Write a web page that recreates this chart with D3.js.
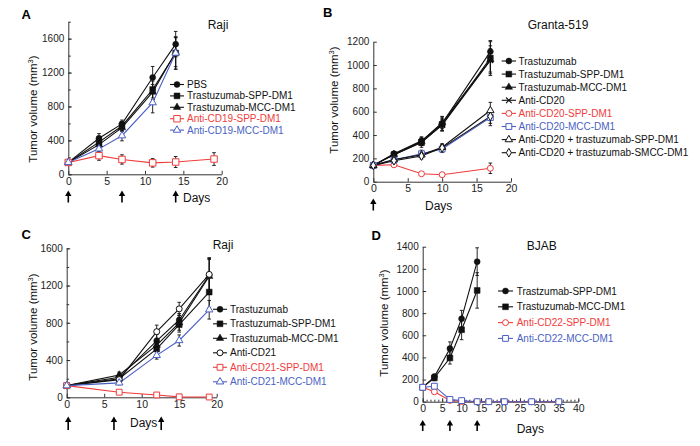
<!DOCTYPE html>
<html><head><meta charset="utf-8">
<script src="https://cdn.jsdelivr.net/npm/d3@7"></script>
<style>
body{margin:0;background:#fff}
text{font-family:"Liberation Sans",Arial,Helvetica,sans-serif}
</style>
</head><body>
<svg id="chart" width="700" height="446"></svg>
<script>
// ---------------- DATA ----------------
// Panel A (Raji)
const daysA = [0, 4, 7, 11, 14];
const daysA19 = [0, 4, 7, 11, 14, 19];
const pbsA = [140, 425, 595, 1142, 1535];
const pbsErrA = [15, 55, 45, 130, 150];
const trasSppA = [140, 380, 570, 1000, 1430];
const trasSppErrA = [15, 50, 50, 100, 190];
const trasMccA = [140, 350, 550, 970, 1440];
const trasMccErrA = [15, 45, 45, 90, 170];
const cd19SppA = [140, 220, 175, 135, 145, 180];
const cd19SppErrA = [15, 55, 55, 50, 65, 75];
const cd19MccA = [140, 300, 455, 845, 1430];
const cd19MccErrA = [15, 35, 60, 120, 190];
const arrowsA = [0, 7, 14];
const yTicksA = [0, 400, 800, 1200, 1600];
const xTicksA = [0, 5, 10, 15, 20];

// Panel B (Granta-519)
const daysB = [0, 3, 7, 10, 17];
const trasB = [140, 240, 350, 500, 1115];
const trasErrB = [10, 15, 35, 60, 85];
const trasSppB = [140, 230, 335, 490, 1060];
const trasSppErrB = [10, 20, 40, 55, 150];
const trasMccB = [140, 235, 345, 505, 1045];
const trasMccErrB = [10, 15, 30, 50, 120];
const cd20B = [140, 232, 340, 485, 1040];
const cd20ErrB = [10, 15, 30, 50, 100];
const cd20SppB = [140, 145, 68, 60, 115];
const cd20SppErrB = [10, 10, 8, 8, 45];
const cd20MccB = [140, 185, 240, 280, 550];
const cd20MccErrB = [10, 15, 30, 30, 70];
const cd20TSppB = [140, 190, 230, 295, 610];
const cd20TSppErrB = [10, 15, 25, 30, 70];
const cd20TSmccB = [140, 180, 220, 290, 560];
const cd20TSmccErrB = [10, 15, 25, 30, 60];
const arrowsB = [0];
const yTicksB = [0, 200, 400, 600, 800, 1000, 1200];
const xTicksB = [0, 5, 10, 15, 20];

// Panel C (Raji)
const daysC = [0, 7, 12, 15, 19];
const trasC = [125, 215, 605, 830, 1310];
const trasErrC = [10, 30, 70, 70, 180];
const trasSppC = [125, 200, 520, 780, 1130];
const trasSppErrC = [10, 25, 70, 80, 170];
const trasMccC = [125, 240, 560, 800, 1300];
const trasMccErrC = [10, 30, 70, 80, 180];
const cd21C = [125, 190, 705, 950, 1320];
const cd21ErrC = [10, 25, 70, 70, 180];
const cd21SppC = [125, 55, 25, 5, 3];
const cd21SppErrC = [5, 8, 5, 3, 3];
const cd21MccC = [125, 155, 450, 610, 940];
const cd21MccErrC = [10, 20, 40, 60, 100];
const arrowsC = [0.2, 6.3, 12.6];
const yTicksC = [0, 400, 800, 1200, 1600];
const xTicksC = [0, 5, 10, 15, 20];

// Panel D (BJAB)
const daysD = [0, 3, 7, 10, 14];
const daysD35 = [0, 3, 7, 10, 14, 17, 21, 28, 35];
const trasSppD = [130, 225, 480, 750, 1265];
const trasSppErrD = [10, 25, 60, 75, 125];
const trasMccD = [130, 215, 395, 650, 1005];
const trasMccErrD = [10, 25, 55, 90, 160];
const cd22SppD = [130, 90, 12, 2, 0, 0, 0, 0, 0];
const cd22SppErrD = [10, 10, 5, 3, 0, 0, 0, 0, 0];
const cd22MccD = [130, 140, 20, 10, 0, 0, 0, 0, 0];
const cd22MccErrD = [10, 10, 5, 3, 0, 0, 0, 0, 0];
const arrowsD = [0, 7, 14];
const yTicksD = [0, 200, 400, 600, 800, 1000, 1200, 1400];
const xTicksD = [0, 5, 10, 15, 20, 25, 30, 35, 40];

// ---------------- STYLE ----------------
const BLACK = "#111", RED = "#f03c3c", BLUE = "#4a5fc4";
const svg = d3.select("#chart");

const panels = [
  {
    letter: "A", letterPos: [21.5, 18.5], title: "Raji", titlePos: [218, 29],
    xRange: [68.3, 221.7], yRange: [174.3, 21.7], xDom: [0, 20], yDom: [0, 1800],
    xTicks: xTicksA, yTicks: yTicksA, yMinor: d3.range(0, 1801, 200), xMinor: [],
    yLabelPos: [33, 109], arrows: arrowsA, arrowY: [190.5, 202.5], daysPos: [183, 201.5],
    legend: { x0: 170, x1: 184, tx: 187, y0: 84.5, dy: 11.4 },
    series: [
      { name: "PBS", days: daysA, v: pbsA, e: pbsErrA, shape: "circle", color: BLACK, open: false },
      { name: "Trastuzumab-SPP-DM1", days: daysA, v: trasSppA, e: trasSppErrA, shape: "square", color: BLACK, open: false },
      { name: "Trastuzumab-MCC-DM1", days: daysA, v: trasMccA, e: trasMccErrA, shape: "triangle", color: BLACK, open: false },
      { name: "Anti-CD19-SPP-DM1", days: daysA19, v: cd19SppA, e: cd19SppErrA, shape: "square", color: RED, open: true, big: true },
      { name: "Anti-CD19-MCC-DM1", days: daysA, v: cd19MccA, e: cd19MccErrA, shape: "triangle", color: BLUE, open: true }
    ]
  },
  {
    letter: "B", letterPos: [323, 17], title: "Granta-519", titlePos: [558, 28.5],
    xRange: [373.3, 511], yRange: [181.7, 41.7], xDom: [0, 20], yDom: [0, 1200],
    xTicks: xTicksB, yTicks: yTicksB, yMinor: [], xMinor: [],
    yLabelPos: [334, 100], arrows: arrowsB, arrowY: [198.5, 210.5], daysPos: [425, 210],
    legend: { x0: 501.7, x1: 516, tx: 518.5, y0: 61, dy: 13.1 },
    series: [
      { name: "Trastuzumab", days: daysB, v: trasB, e: trasErrB, shape: "circle", color: BLACK, open: false },
      { name: "Trastuzumab-SPP-DM1", days: daysB, v: trasSppB, e: trasSppErrB, shape: "square", color: BLACK, open: false },
      { name: "Trastuzumab-MCC-DM1", days: daysB, v: trasMccB, e: trasMccErrB, shape: "triangle", color: BLACK, open: false },
      { name: "Anti-CD20", days: daysB, v: cd20B, e: cd20ErrB, shape: "x", color: BLACK, open: false },
      { name: "Anti-CD20-SPP-DM1", days: daysB, v: cd20SppB, e: cd20SppErrB, shape: "circle", color: RED, open: true },
      { name: "Anti-CD20-MCC-DM1", days: daysB, v: cd20MccB, e: cd20MccErrB, shape: "square", color: BLUE, open: true },
      { name: "Anti-CD20 + trastuzumab-SPP-DM1", days: daysB, v: cd20TSppB, e: cd20TSppErrB, shape: "triangle", color: BLACK, open: true },
      { name: "Anti-CD20 + trastuzumab-SMCC-DM1", days: daysB, v: cd20TSmccB, e: cd20TSmccErrB, shape: "diamond", color: BLACK, open: true }
    ]
  },
  {
    letter: "C", letterPos: [21.5, 238.5], title: "Raji", titlePos: [223, 249],
    xRange: [66.7, 216.7], yRange: [397.3, 248.3], xDom: [0, 20], yDom: [0, 1600],
    xTicks: xTicksC, yTicks: yTicksC, yMinor: d3.range(0, 1601, 200), xMinor: [],
    yLabelPos: [33, 327], arrows: arrowsC, arrowY: [416.5, 430], daysPos: [130, 427],
    legend: { x0: 213, x1: 227, tx: 230, y0: 309.3, dy: 14.5 },
    series: [
      { name: "Trastuzumab", days: daysC, v: trasC, e: trasErrC, shape: "circle", color: BLACK, open: false },
      { name: "Trastuzumab-SPP-DM1", days: daysC, v: trasSppC, e: trasSppErrC, shape: "square", color: BLACK, open: false },
      { name: "Trastuzumab-MCC-DM1", days: daysC, v: trasMccC, e: trasMccErrC, shape: "triangle", color: BLACK, open: false },
      { name: "Anti-CD21", days: daysC, v: cd21C, e: cd21ErrC, shape: "circle", color: BLACK, open: true },
      { name: "Anti-CD21-SPP-DM1", days: daysC, v: cd21SppC, e: cd21SppErrC, shape: "square", color: RED, open: true },
      { name: "Anti-CD21-MCC-DM1", days: daysC, v: cd21MccC, e: cd21MccErrC, shape: "triangle", color: BLUE, open: true }
    ]
  },
  {
    letter: "D", letterPos: [371.5, 239.5], title: "BJAB", titlePos: [541.7, 250],
    xRange: [422.7, 578.3], yRange: [401.7, 246.7], xDom: [0, 40], yDom: [0, 1400],
    xTicks: xTicksD, yTicks: yTicksD, yMinor: [], xMinor: d3.range(0, 41, 1),
    yLabelPos: [384, 323], arrows: arrowsD, arrowY: [420, 431], daysPos: [516.7, 432.5],
    legend: { x0: 498, x1: 513, tx: 516.7, y0: 291, dy: 15.8 },
    series: [
      { name: "Trastzumab-SPP-DM1", days: daysD, v: trasSppD, e: trasSppErrD, shape: "circle", color: BLACK, open: false },
      { name: "Trastuzumab-MCC-DM1", days: daysD, v: trasMccD, e: trasMccErrD, shape: "square", color: BLACK, open: false },
      { name: "Anti-CD22-SPP-DM1", days: daysD35, v: cd22SppD, e: cd22SppErrD, shape: "circle", color: RED, open: true },
      { name: "Anti-CD22-MCC-DM1", days: daysD35, v: cd22MccD, e: cd22MccErrD, shape: "square", color: BLUE, open: true }
    ]
  }
];

function markerPath(shape, big) {
  if (shape === "x") return "M-2.8,-2.8L2.8,2.8M-2.8,2.8L2.8,-2.8";
  const map = { circle: d3.symbolCircle, square: d3.symbolSquare, triangle: d3.symbolTriangle, diamond: d3.symbolDiamond };
  const size = { circle: 28, square: big ? 42 : 34, triangle: 24, diamond: 22 }[shape];
  return d3.symbol().type(map[shape]).size(size)();
}

function drawMarker(g, s, cx, cy) {
  const p = g.append("path").attr("d", markerPath(s.shape, s.big))
    .attr("transform", `translate(${cx},${cy})`);
  if (s.shape === "x") {
    p.attr("fill", "none").attr("stroke", s.color).attr("stroke-width", 1.1);
  } else if (s.open) {
    p.attr("fill", "#fff").attr("stroke", s.color).attr("stroke-width", 1);
  } else {
    p.attr("fill", s.color).attr("stroke", s.color).attr("stroke-width", 0.5);
  }
}

function drawPanel(p) {
  const x = d3.scaleLinear().domain(p.xDom).range(p.xRange);
  const y = d3.scaleLinear().domain(p.yDom).range(p.yRange);
  const g = svg.append("g");
  const fmt = d3.format("d");

  // minor ticks
  if (p.yMinor.length) {
    g.append("g").attr("transform", `translate(${p.xRange[0]},0)`)
      .call(d3.axisLeft(y).tickValues(p.yMinor).tickSize(-2.5).tickSizeOuter(0).tickFormat(""))
      .call(a => a.select(".domain").remove())
      .selectAll("line").attr("stroke", "#333");
  }
  if (p.xMinor.length) {
    g.append("g").attr("transform", `translate(0,${p.yRange[0]})`)
      .call(d3.axisBottom(x).tickValues(p.xMinor).tickSize(-2).tickSizeOuter(0).tickFormat(""))
      .call(a => a.select(".domain").remove())
      .selectAll("line").attr("stroke", "#333");
  }
  // x axis
  const xa = g.append("g").attr("transform", `translate(0,${p.yRange[0]})`)
    .call(d3.axisBottom(x).tickValues(p.xTicks).tickFormat(fmt).tickSize(-3.5).tickSizeOuter(0).tickPadding(3));
  xa.selectAll("text").attr("font-size", 10.5).attr("fill", "#222")
    .style("font-family", '"Liberation Sans",Arial,sans-serif');
  xa.selectAll("line,path").attr("stroke", "#333");
  // y axis
  const ya = g.append("g").attr("transform", `translate(${p.xRange[0]},0)`)
    .call(d3.axisLeft(y).tickValues(p.yTicks).tickFormat(fmt).tickSize(-3.5).tickSizeOuter(0).tickPadding(4));
  ya.selectAll("text").attr("font-size", 10).attr("fill", "#222")
    .style("font-family", '"Liberation Sans",Arial,sans-serif');
  ya.selectAll("line,path").attr("stroke", "#333");

  // panel letter, title
  g.append("text").attr("x", p.letterPos[0]).attr("y", p.letterPos[1])
    .attr("font-size", 13).attr("font-weight", "bold").attr("fill", "#000").text(p.letter);
  g.append("text").attr("x", p.titlePos[0]).attr("y", p.titlePos[1])
    .attr("text-anchor", "middle").attr("font-size", 12).attr("fill", "#111").text(p.title);

  // y label
  const yl = g.append("text").attr("transform", `translate(${p.yLabelPos[0] + 4},${p.yLabelPos[1]}) rotate(-90)`)
    .attr("text-anchor", "middle").attr("font-size", 11.5).attr("fill", "#111");
  yl.append("tspan").text("Tumor volume (mm");
  yl.append("tspan").attr("font-size", 7.5).attr("dy", -4.5).text("3");
  yl.append("tspan").attr("dy", 4.5).text(")");

  // arrows
  p.arrows.forEach(d => {
    const ax = x(d);
    g.append("line").attr("x1", ax).attr("x2", ax).attr("y1", p.arrowY[1]).attr("y2", p.arrowY[0] + 3)
      .attr("stroke", "#000").attr("stroke-width", 1.6);
    g.append("path").attr("d", `M${ax},${p.arrowY[0]}L${ax - 3.2},${p.arrowY[0] + 5.5}L${ax + 3.2},${p.arrowY[0] + 5.5}Z`)
      .attr("fill", "#000");
  });
  g.append("text").attr("x", p.daysPos[0]).attr("y", p.daysPos[1])
    .attr("font-size", 12).attr("fill", "#111").text("Days");

  // series
  const line = d3.line().x(d => x(d[0])).y(d => y(d[1]));
  p.series.forEach(s => {
    const pts = s.days.map((d, i) => [d, s.v[i], s.e[i]]);
    g.append("path").datum(pts).attr("d", line).attr("fill", "none")
      .attr("stroke", s.color).attr("stroke-width", 1.1);
  });
  p.series.forEach(s => {
    s.days.forEach((d, i) => {
      const e = s.e[i];
      if (e > 6) {
        const cx = x(d);
        const y1 = y(s.v[i] - e), y2 = y(s.v[i] + e);
        g.append("line").attr("x1", cx).attr("x2", cx).attr("y1", y1).attr("y2", y2)
          .attr("stroke", "#111").attr("stroke-width", 0.9);
        [y1, y2].forEach(yy => g.append("line").attr("x1", cx - 1.8).attr("x2", cx + 1.8)
          .attr("y1", yy).attr("y2", yy).attr("stroke", "#111").attr("stroke-width", 0.9));
      }
    });
  });
  p.series.forEach(s => {
    s.days.forEach((d, i) => drawMarker(g, s, x(d), y(s.v[i])));
  });

  // legend
  const L = p.legend;
  p.series.forEach((s, i) => {
    const ly = L.y0 + i * L.dy;
    g.append("line").attr("x1", L.x0).attr("x2", L.x1).attr("y1", ly).attr("y2", ly)
      .attr("stroke", s.color).attr("stroke-width", 1.1);
    drawMarker(g, s, L.x0 + (L.x1 - L.x0) * 0.5, ly);
    g.append("text").attr("x", L.tx).attr("y", ly).attr("dy", "0.35em")
      .attr("font-size", 10).attr("fill", s.color === BLACK ? "#111" : s.color).text(s.name);
  });
}

panels.forEach(drawPanel);
</script>
</body></html>
